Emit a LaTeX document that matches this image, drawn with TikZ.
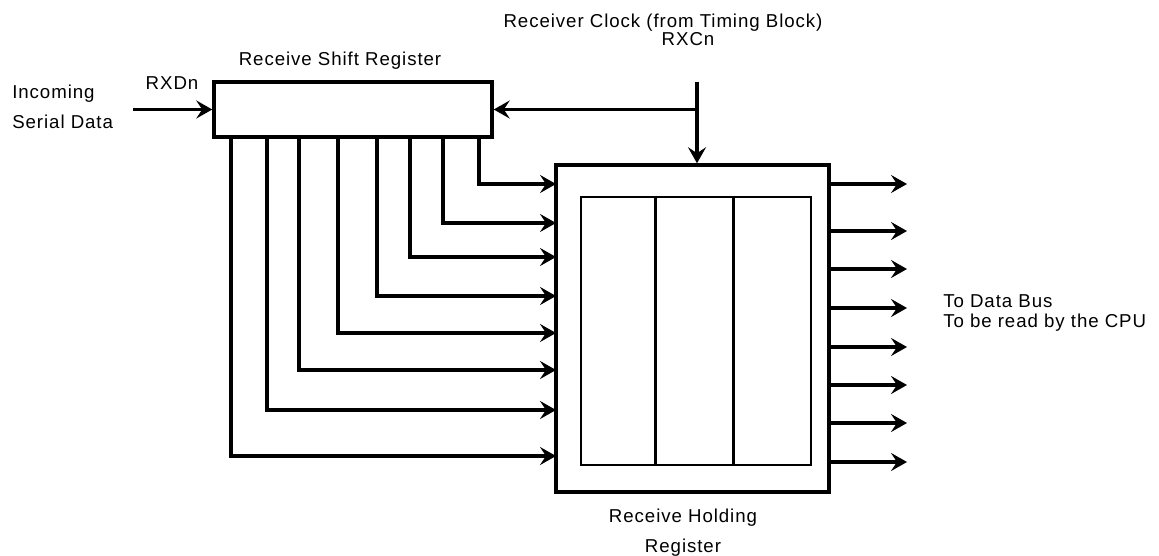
\documentclass[tikz,border=0pt]{standalone}
\usepackage{fontspec}
\setmainfont[LetterSpace=5]{Liberation Sans}
\usetikzlibrary{arrows.meta}
\begin{document}
\begin{tikzpicture}[x=0.75pt,y=-0.75pt,
  wire/.style={line width=2.6pt},
  arr/.style={wire,-{Stealth[length=12pt,width=13.5pt,inset=4.5pt]}},
  box/.style={draw,line width=2.6pt,rectangle,inner sep=0pt},
  inbox/.style={draw,line width=2.2pt,rectangle,inner sep=0pt},
  lbl/.style={inner sep=0pt,font=\fontsize{14pt}{16pt}\selectfont}]
\useasboundingbox (0,0) rectangle (1159,556);
% blocks
\node[box,minimum width=278*0.75pt,minimum height=55*0.75pt] (srr) at (353,109.5) {};
\node[box,minimum width=273*0.75pt,minimum height=327*0.75pt] (rhr) at (692.5,328.5) {};
\node[inbox,minimum width=230*0.75pt,minimum height=268*0.75pt] (cells) at (696,331) {};
\draw[line width=2.2pt] ([xshift=76*0.75pt]cells.north west) -- ([xshift=76*0.75pt]cells.south west);
\draw[line width=2.2pt] ([xshift=154*0.75pt]cells.north west) -- ([xshift=154*0.75pt]cells.south west);
% labels
\node[lbl,anchor=base] (tsrr) at (340,66) {Receive Shift Register};
\node[lbl,anchor=base] (trxd) at (172,90) {RXDn};
\node[lbl,anchor=base west] (tin1) at (12,99) {Incoming};
\node[lbl,anchor=base west] (tin2) at (12,129) {Serial Data};
\node[lbl,anchor=base] (tclk) at (663,28) {Receiver Clock (from Timing Block)};
\node[lbl,anchor=base] (trxc) at (688,46) {RXCn};
\node[lbl,anchor=base west] (tbus1) at (943,307) {To Data Bus};
\node[lbl,anchor=base west] (tbus2) at (943,327) {To be read by the CPU};
\node[lbl,anchor=base] (trhr1) at (683,522) {Receive Holding};
\node[lbl,anchor=base] (trhr2) at (683,552) {Register};
% serial input
\coordinate (sin) at (133,109.5);
\draw[arr] (sin) -- (srr.west);
% clock
\coordinate (clk) at (697,82);
\draw[arr] (clk) -- (clk |- rhr.north);
\draw[arr] (clk |- srr.east) -- (srr.east);
% parallel taps
\foreach \tx/\ty in {479/184,443/223,410/257,377/296,338/333,299/370,267/410,231/456}{
  \coordinate (tap) at (\tx,137);
  \coordinate (hin) at (556,\ty);
  \draw[arr] (tap) |- (hin);
}
% outputs
\foreach \oy in {184,231,269,308,347,385,423,462}{
  \coordinate (out) at (907,\oy);
  \draw[arr] (rhr.east |- out) -- (out);
}
\end{tikzpicture}
\end{document}
